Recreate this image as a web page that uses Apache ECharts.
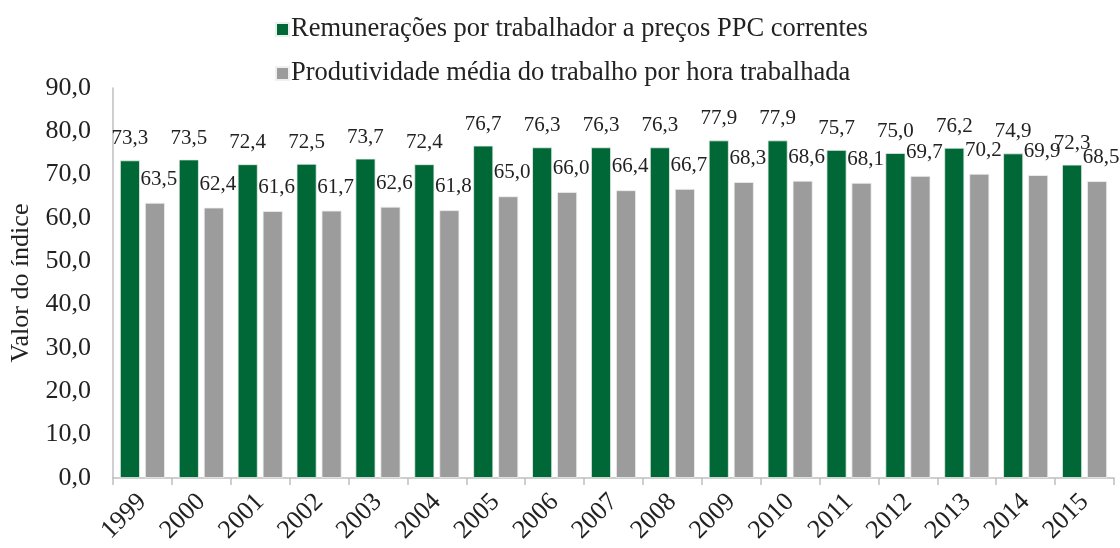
<!DOCTYPE html>
<html><head><meta charset="utf-8">
<script src="https://cdn.jsdelivr.net/npm/echarts@6/dist/echarts.min.js"></script>
<style>html,body{margin:0;padding:0;background:#fff}#c{width:1120px;height:548px}</style>
</head><body><div id="c"></div>
<script>
const categories = ['1999','2000','2001','2002','2003','2004','2005','2006','2007','2008','2009','2010','2011','2012','2013','2014','2015'];
const remuneracoes = [73.3,73.5,72.4,72.5,73.7,72.4,76.7,76.3,76.3,76.3,77.9,77.9,75.7,75.0,76.2,74.9,72.3];
const produtividade = [63.5,62.4,61.6,61.7,62.6,61.8,65.0,66.0,66.4,66.7,68.3,68.6,68.1,69.7,70.2,69.9,68.5];
const seriesNames = ['Remunerações por trabalhador a preços PPC correntes','Produtividade média do trabalho por hora trabalhada'];
const yTicks = [0,10,20,30,40,50,60,70,80,90];

const font = 'Liberation Serif, Times New Roman, serif';
const fmt = v => v.toFixed(1).replace('.', ',');
const chart = echarts.init(document.getElementById('c'));
chart.setOption({
  animation: false,
  textStyle: {fontFamily: font},
  legend: {
    orient: 'vertical', left: 270, top: 11, itemGap: 17,
    itemWidth: 13, itemHeight: 13, icon: 'rect',
    textStyle: {fontFamily: font, fontSize: 26.5, color: '#222', padding: [0,0,0,-3]},
    data: seriesNames
  },
  grid: {left: 113, right: 6, top: 88, bottom: 70},
  xAxis: {
    type: 'category', data: categories,
    axisLine: {lineStyle: {color: '#bfbfbf', width: 1.5}},
    axisTick: {show: true, length: 7, lineStyle: {color: '#bfbfbf', width: 1.5}},
    axisLabel: {rotate: 45, fontFamily: font, fontSize: 26, color: '#222', margin: 20}
  },
  yAxis: {
    type: 'value', min: yTicks[0], max: yTicks[yTicks.length-1], interval: 10,
    name: 'Valor do índice', nameLocation: 'middle', nameGap: 78,
    nameTextStyle: {fontFamily: font, fontSize: 26, color: '#222'},
    axisLine: {show: true, lineStyle: {color: '#bfbfbf', width: 1.5}},
    axisTick: {show: false},
    splitLine: {show: false},
    axisLabel: {fontFamily: font, fontSize: 26, color: '#222', margin: 22, formatter: v => fmt(v)}
  },
  series: [
    {
      name: seriesNames[0], type: 'bar', data: remuneracoes,
      barWidth: 20, barGap: '25%',
      itemStyle: {color: '#006837', borderColor: '#e8f0ea', borderWidth: 0.8},
      label: {show: true, position: 'top', distance: 11, fontFamily: font, fontSize: 21, color: '#222', formatter: p => fmt(p.value)}
    },
    {
      name: seriesNames[1], type: 'bar', data: produtividade,
      barWidth: 20,
      itemStyle: {color: '#9c9c9c', borderColor: '#f0f0f0', borderWidth: 0.8},
      label: {show: true, position: 'top', distance: 13, offset: [4, 0], fontFamily: font, fontSize: 21, color: '#222', formatter: p => fmt(p.value)}
    }
  ]
});
</script></body></html>
